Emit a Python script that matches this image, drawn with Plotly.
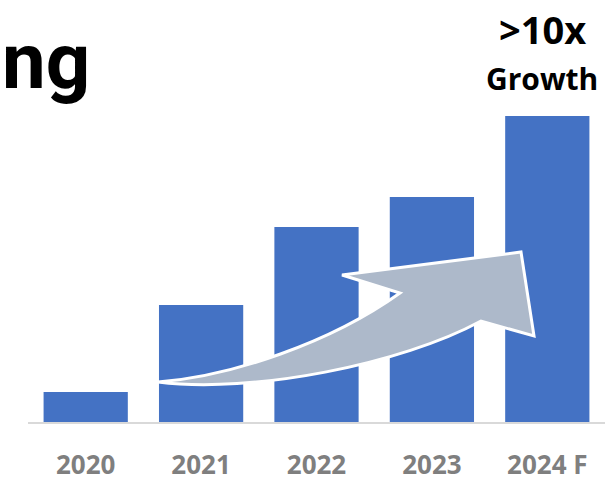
import plotly.graph_objects as go

years = ["2020", "2021", "2022", "2023", "2024 F"]
values = [1.0, 3.9, 6.5, 7.5, 10.2]
headline_fragment = "ng"
growth_big = ">10x"
growth_small = "Growth"

W, H = 616, 483
ML, MR, MT, MB = 28, 11, 0, 61
PW, PH = W - ML - MR, H - MT - MB


def px(x, y):
    """pixel -> paper coords for decorations"""
    return (x - ML) / PW, (H - MB - y) / PH


def pt(x, y):
    a, b = px(x, y)
    return f"{a:.5f},{b:.5f}"


fig = go.Figure()
fig.add_trace(go.Bar(
    x=years, y=values,
    marker=dict(color="#4472C4", line=dict(width=0)),
    width=0.73,
    hoverinfo="skip",
))

arrow_path = (
    f"M {pt(158,382)} "
    f"C {pt(232,376)} {pt(330,343)} {pt(400,293)} "
    f"L {pt(342,275)} L {pt(521,252)} L {pt(534,336)} L {pt(481,321)} "
    f"C {pt(402,364)} {pt(252,394)} {pt(158,382)} Z"
)
fig.add_shape(type="path", path=arrow_path, xref="paper", yref="paper",
              fillcolor="#ADB9CA", line=dict(color="white", width=3), layer="above")

ax, ay = px(92, 62)
fig.add_annotation(text=f"<b>{headline_fragment}</b>", x=ax, y=ay, xref="paper", yref="paper",
                   xanchor="right", yanchor="middle", showarrow=False,
                   font=dict(family="Roboto", size=78, color="#000000"))
bx, by = px(542, 29)
fig.add_annotation(text=f"<b>{growth_big}</b>", x=bx, y=by, xref="paper", yref="paper",
                   xanchor="center", yanchor="middle", showarrow=False,
                   font=dict(family="Open Sans", size=38, color="#000000"))
cx, cy = px(542, 78)
fig.add_annotation(text=f"<b>{growth_small}</b>", x=cx, y=cy, xref="paper", yref="paper",
                   xanchor="center", yanchor="middle", showarrow=False,
                   font=dict(family="Open Sans", size=30, color="#000000"))

fig.update_layout(
    width=W, height=H,
    margin=dict(l=ML, r=MR, t=MT, b=MB, pad=0),
    paper_bgcolor="white", plot_bgcolor="white",
    showlegend=False,
    bargap=0.27,
    xaxis=dict(
        type="category",
        showline=True, linecolor="#D9D9D9", linewidth=2,
        showgrid=False, zeroline=False, ticks="",
        ticklabelstandoff=19,
        tickfont=dict(family="Open Sans", size=26, color="#7F7F7F", weight="bold"),
        fixedrange=True,
    ),
    yaxis=dict(
        range=[0, PH / 30.0],
        visible=False, showgrid=False, zeroline=False, fixedrange=True,
    ),
)

fig.write_html("out.html")
